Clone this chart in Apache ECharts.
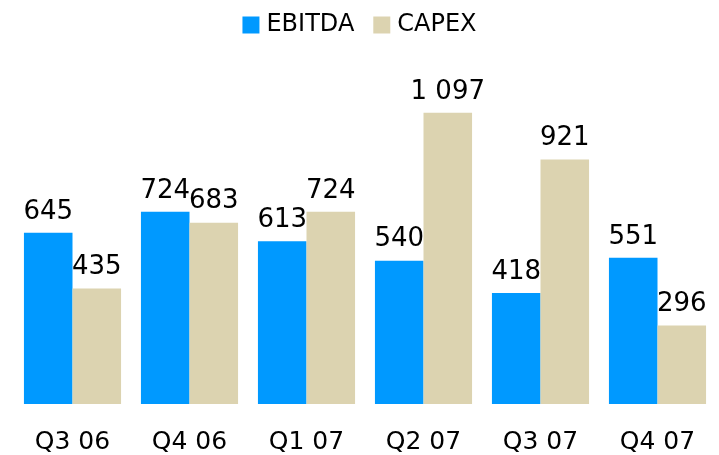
<!DOCTYPE html>
<html>
<head>
<meta charset="utf-8">
<script src="https://cdn.jsdelivr.net/npm/echarts@6/dist/echarts.min.js"></script>
<style>
  html, body { margin: 0; padding: 0; background: #fff; }
  #chart { width: 719px; height: 455px; }
</style>
</head>
<body>
<div id="chart"></div>
<script>
const categories = ['Q3 06', 'Q4 06', 'Q1 07', 'Q2 07', 'Q3 07', 'Q4 07'];
const ebitda = [645, 724, 613, 540, 418, 551];
const capex = [435, 683, 724, 1097, 921, 296];

// space as thousands separator, like "1 097"
function fmt(p) {
  return String(p.value).replace(/\B(?=(\d{3})+(?!\d))/g, ' ');
}

const myChart = echarts.init(document.getElementById('chart'));
const labelStyle = {
  show: true,
  position: 'top',
  distance: 8,
  color: '#000',
  fontSize: 26,
  fontFamily: 'DejaVu Sans',
  formatter: fmt
};

myChart.setOption({
  animation: false,
  legend: {
    top: 8,
    left: 'center',
    itemWidth: 17,
    itemHeight: 17,
    itemGap: 19,
    icon: 'rect',
    textStyle: { fontSize: 24, color: '#000', fontFamily: 'DejaVu Sans', padding: [0, 0, 0, 2] },
    data: ['EBITDA', 'CAPEX']
  },
  grid: { left: 14, right: 3, top: 59, bottom: 50 },
  xAxis: {
    type: 'category',
    data: categories,
    axisLine: { show: false },
    axisTick: { show: false },
    axisLabel: { fontSize: 25, color: '#000', margin: 26, fontFamily: 'DejaVu Sans' }
  },
  yAxis: {
    type: 'value',
    min: 0,
    max: 1300,
    show: false
  },
  series: [
    {
      name: 'EBITDA',
      type: 'bar',
      data: ebitda,
      barGap: '0%',
      barCategoryGap: '17%',
      itemStyle: { color: '#0099FF' },
      label: labelStyle
    },
    {
      name: 'CAPEX',
      type: 'bar',
      data: capex,
      itemStyle: { color: '#DCD3B0' },
      label: labelStyle
    }
  ]
});
</script>
</body>
</html>
